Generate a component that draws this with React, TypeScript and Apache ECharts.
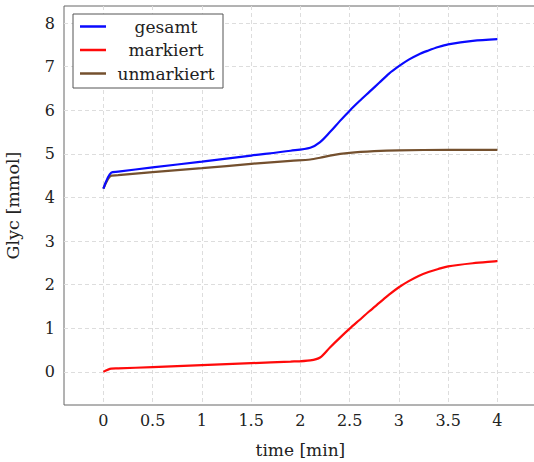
import React, { useEffect, useRef } from "react";
import * as echarts from "echarts";

const timeGesamt = [0, 0.08, 0.15, 0.5, 1, 1.5, 1.9, 2.1, 2.2, 2.3, 2.4, 2.5, 2.6, 2.7, 2.8, 2.9, 3.0, 3.1, 3.2, 3.3, 3.4, 3.5, 3.75, 4.0];
const gesamt = [4.2, 4.57, 4.59, 4.69, 4.82, 4.96, 5.07, 5.14, 5.27, 5.5, 5.75, 5.99, 6.21, 6.42, 6.63, 6.84, 7.01, 7.16, 7.28, 7.37, 7.45, 7.51, 7.59, 7.63];

const timeMarkiert = [0, 0.08, 0.15, 0.5, 1, 1.5, 1.9, 2.1, 2.2, 2.3, 2.4, 2.5, 2.6, 2.7, 2.8, 2.9, 3.0, 3.1, 3.2, 3.3, 3.4, 3.5, 3.75, 4.0];
const markiert = [0, 0.075, 0.08, 0.11, 0.155, 0.2, 0.235, 0.265, 0.33, 0.56, 0.78, 0.99, 1.19, 1.39, 1.58, 1.77, 1.94, 2.08, 2.2, 2.29, 2.36, 2.42, 2.49, 2.54];

const timeUnmarkiert = [0, 0.08, 0.15, 0.5, 1, 1.5, 1.9, 2.1, 2.2, 2.3, 2.5, 2.75, 3.0, 3.5, 4.0];
const unmarkiert = [4.2, 4.5, 4.51, 4.58, 4.67, 4.77, 4.84, 4.87, 4.91, 4.96, 5.02, 5.06, 5.08, 5.09, 5.09];

const xTicks = [0, 0.5, 1, 1.5, 2, 2.5, 3, 3.5, 4];
const yTicks = [0, 1, 2, 3, 4, 5, 6, 7, 8];

const seriesNames = ["gesamt", "markiert", "unmarkiert"];
const seriesColors = ["#0a0aff", "#ff0a0a", "#74502e"];

const FONT = "DejaVu Serif";

function pairs(xs: number[], ys: number[]) {
  return xs.map((x, i) => [x, ys[i]]);
}

export default function App() {
  const ref = useRef<HTMLDivElement>(null);
  useEffect(() => {
    if (!ref.current) return;
    const chart = echarts.init(ref.current, undefined, { renderer: "svg" });
    const datasets = [
      pairs(timeGesamt, gesamt),
      pairs(timeMarkiert, markiert),
      pairs(timeUnmarkiert, unmarkiert),
    ];
    chart.setOption({
      animation: false,
      backgroundColor: "#ffffff",
      grid: {
        left: 64,
        top: 6,
        width: 472.8,
        height: 399,
        show: true,
        borderColor: "#666",
        borderWidth: 1,
        backgroundColor: "transparent",
        outerBoundsMode: "none",
        containLabel: false,
      },
      legend: {
        left: 73,
        top: 14,
        orient: "vertical",
        icon: "rect",
        itemWidth: 26,
        itemHeight: 2.5,
        itemGap: 6.5,
        padding: [4, 2, 6, 7],
        borderColor: "#555",
        borderWidth: 1,
        backgroundColor: "#fff",
        data: seriesNames,
        formatter: (n: string) => `{c|${n}}`,
        textStyle: {
          fontFamily: FONT,
          fontSize: 17,
          color: "#222",
          rich: {
            c: { width: 110, align: "center", fontFamily: FONT, fontSize: 17, color: "#222", lineHeight: 20 },
          },
        },
      },
      xAxis: {
        type: "value",
        min: -0.4,
        max: 4.4,
        name: "time [min]",
        nameLocation: "middle",
        nameGap: 36,
        nameTextStyle: { fontFamily: FONT, fontSize: 17, color: "#222" },
        axisLine: { show: false },
        axisTick: { show: false, customValues: xTicks },
        axisLabel: {
          customValues: xTicks,
          fontFamily: FONT,
          fontSize: 16,
          color: "#222",
          margin: 7,
          formatter: (v: number) => String(v),
        },
        splitLine: { show: true, lineStyle: { color: "#dddddd", type: [4, 3], width: 1 } },
      },
      yAxis: {
        type: "value",
        min: -0.76,
        max: 8.39,
        name: "Glyc [mmol]",
        nameLocation: "middle",
        nameGap: 42,
        nameTextStyle: { fontFamily: FONT, fontSize: 17.5, color: "#222" },
        axisLine: { show: false },
        axisTick: { show: false, customValues: yTicks },
        axisLabel: {
          customValues: yTicks,
          fontFamily: FONT,
          fontSize: 16,
          color: "#222",
          margin: 9,
          formatter: (v: number) => String(v),
        },
        splitLine: { show: true, lineStyle: { color: "#dddddd", type: [4, 3], width: 1 } },
      },
      series: seriesNames.map((name, i) => ({
        name,
        type: "line",
        data: datasets[i],
        showSymbol: false,
        symbol: "none",
        smooth: 0.3,
        lineStyle: { color: seriesColors[i], width: 2.2 },
        itemStyle: { color: seriesColors[i] },
        z: 3 - i,
      })),
    });
    return () => chart.dispose();
  }, []);
  return (
    <div
      ref={ref}
      style={{ position: "absolute", left: 0, top: 0, width: 534, height: 462, background: "#fff" }}
    />
  );
}
